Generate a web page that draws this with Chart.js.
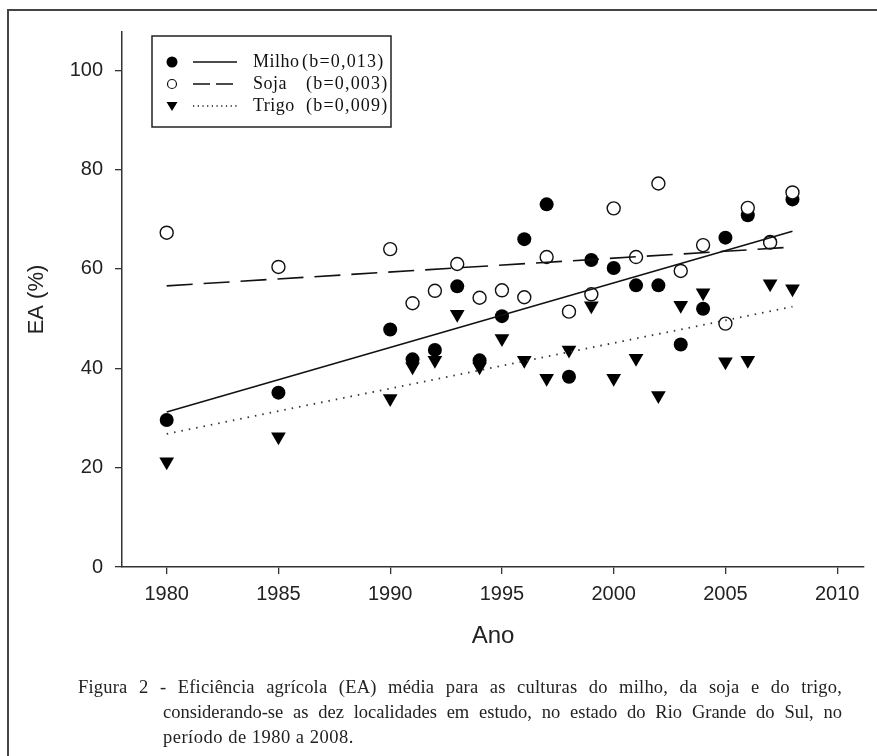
<!DOCTYPE html>
<html>
<head>
<meta charset="utf-8">
<script src="https://cdn.jsdelivr.net/npm/chart.js@4.4.0/dist/chart.umd.min.js"></script>
<style>
  html, body { margin: 0; padding: 0; background: #fff; }
  body { width: 877px; height: 756px; overflow: hidden; position: relative; }
  #frame {
    position: absolute; left: 7px; top: 9px; width: 900px; height: 760px;
    border: 2px solid #444; box-sizing: border-box;
  }
  #chart { position: absolute; left: 0; top: 0; }
  .cap {
    position: absolute; font-family: 'Liberation Serif', 'Times New Roman', serif;
    font-size: 18.5px; line-height: 25px; color: #222;
    text-align: justify; text-align-last: justify;
  }
  .l1 { left: 78px; top: 675px; width: 764px; letter-spacing: 0.2px; }
  .l2 { left: 163px; top: 700px; width: 679px; }
  .l3 { left: 163px; top: 725px; letter-spacing: 0.5px; text-align: left; text-align-last: left; }
</style>
</head>
<body>
<div id="frame"></div>
<canvas id="chart" width="877" height="756"></canvas>
<div class="cap l1">Figura 2 - Eficiência agrícola (EA) média para as culturas do milho, da soja e do trigo,</div>
<div class="cap l2">considerando-se as dez localidades em estudo, no estado do Rio Grande do Sul, no</div>
<div class="cap l3">período de 1980 a 2008.</div>
<script>
// --------------------------------------------
// DATA
// --------------------------------------------
const years = [1980, 1985, 1990, 1991, 1992, 1993, 1994, 1995, 1996, 1997, 1998,
               1999, 2000, 2001, 2002, 2003, 2004, 2005, 2006, 2007, 2008];
const milho = [29.6, 35.1, 47.8, 41.8, 43.7, 56.5, 41.6, 50.5, 66.0, 73.0, 38.3,
               61.8, 60.2, 56.7, 56.7, 44.8, 52.0, 66.3, 70.8, 65.5, 74.0];
const soja  = [67.3, 60.4, 64.0, 53.1, 55.6, 61.0, 54.2, 55.7, 54.3, 62.4, 51.4,
               54.9, 72.2, 62.4, 77.2, 59.6, 64.8, 49.0, 72.3, 65.3, 75.4];
const trigo = [21.2, 26.2, 33.9, 40.3, 41.6, 50.9, 40.3, 46.0, 41.6, 38.0, 43.7,
               52.6, 38.0, 42.0, 34.5, 52.7, 55.2, 41.3, 41.6, 57.0, 56.0];

// regression lines, start and end
const trendYears = [1980, 2008];
const milhoTrend = [31.2, 67.6];
const sojaTrend  = [56.6, 64.4];
const trigoTrend = [26.8, 52.4];

const xTicks = [1980, 1985, 1990, 1995, 2000, 2005, 2010];
const yTicks = [0, 20, 40, 60, 80, 100];

const legendItems = [
  { name: 'Milho', coef: '(b=0,013)', marker: 'filled', dash: [] },
  { name: 'Soja',  coef: '(b=0,003)', marker: 'open',   dash: [17, 6] },
  { name: 'Trigo', coef: '(b=0,009)', marker: 'tri',    dash: [1.2, 3.5] }
];

function toPoints(xs, ys) {
  return xs.map((x, i) => ({ x: x, y: ys[i] }));
}

// --------------------------------------------
// LEGEND (marker + line sample + text in a box)
// --------------------------------------------
function drawMarker(ctx, kind, x, y) {
  ctx.save();
  ctx.fillStyle = '#000';
  ctx.strokeStyle = '#111';
  if (kind === 'filled') {
    ctx.beginPath(); ctx.arc(x, y, 5.5, 0, Math.PI * 2); ctx.fill();
  } else if (kind === 'open') {
    ctx.lineWidth = 1.2;
    ctx.beginPath(); ctx.arc(x, y, 4.5, 0, Math.PI * 2); ctx.stroke();
  } else {
    ctx.beginPath();
    ctx.moveTo(x - 5.5, y - 4); ctx.lineTo(x + 5.5, y - 4); ctx.lineTo(x, y + 5);
    ctx.closePath(); ctx.fill();
  }
  ctx.restore();
}

const boxLegend = {
  id: 'boxLegend',
  afterDraw(chart) {
    const ctx = chart.ctx;
    ctx.save();
    ctx.strokeStyle = '#222';
    ctx.lineWidth = 1.5;
    ctx.strokeRect(152, 36, 239, 91);
    legendItems.forEach((item, i) => {
      const y = 62 + i * 22;
      drawMarker(ctx, item.marker, 172, y);
      ctx.beginPath();
      ctx.setLineDash(item.dash);
      ctx.lineWidth = 1.3;
      ctx.strokeStyle = '#111';
      ctx.moveTo(193, y); ctx.lineTo(237, y);
      ctx.stroke();
      ctx.setLineDash([]);
      ctx.fillStyle = '#111';
      ctx.textBaseline = 'middle';
      ctx.font = "18px 'Liberation Serif', serif";
      ctx.letterSpacing = '0.5px';
      ctx.fillText(item.name, 253, y);
      ctx.letterSpacing = '1.2px';
      ctx.fillText(item.coef, i === 0 ? 302 : 306, y);
    });
    ctx.restore();
  }
};

// --------------------------------------------
// CHART
// --------------------------------------------
Chart.defaults.font.family = "'Liberation Sans', Arial, sans-serif";
Chart.defaults.color = '#222';

const axisLine = {
  display: true,
  drawOnChartArea: false,
  drawTicks: true,
  tickLength: 7,
  color: '#333',
  lineWidth: 1.3
};

new Chart(document.getElementById('chart'), {
  type: 'scatter',
  data: {
    datasets: [
      {
        label: 'Milho (b=0,013)',
        data: toPoints(trendYears, milhoTrend),
        showLine: true, pointRadius: 0,
        borderColor: '#111', borderWidth: 1.6
      },
      {
        label: 'Soja (b=0,003)',
        data: toPoints(trendYears, sojaTrend),
        showLine: true, pointRadius: 0,
        borderColor: '#111', borderWidth: 1.6, borderDash: [26, 11]
      },
      {
        label: 'Trigo (b=0,009)',
        data: toPoints(trendYears, trigoTrend),
        showLine: true, pointRadius: 0,
        borderColor: '#333', borderWidth: 1.8, borderDash: [1.5, 6]
      },
      {
        label: 'Soja',
        data: toPoints(years, soja),
        pointStyle: 'circle', pointRadius: 6.5,
        pointBackgroundColor: '#fff', pointBorderColor: '#111', pointBorderWidth: 1.4
      },
      {
        label: 'Milho',
        data: toPoints(years, milho),
        pointStyle: 'circle', pointRadius: 7,
        pointBackgroundColor: '#000', pointBorderColor: '#000', pointBorderWidth: 0
      },
      {
        label: 'Trigo',
        data: toPoints(years, trigo),
        pointStyle: 'triangle', rotation: 180, pointRadius: 8.5,
        pointBackgroundColor: '#000', pointBorderColor: '#000', pointBorderWidth: 0
      }
    ]
  },
  options: {
    responsive: false,
    animation: false,
    events: [],
    layout: { padding: { left: 0, top: 32, right: 13, bottom: 79 } },
    plugins: {
      legend: { display: false },
      tooltip: { enabled: false }
    },
    scales: {
      x: {
        type: 'linear',
        min: 1978,
        max: 2011.2,
        afterFit: (s) => { s.height = 110; },
        afterBuildTicks: (s) => { s.ticks = xTicks.map(v => ({ value: v })); },
        grid: axisLine,
        border: { display: true, color: '#333', width: 1.5 },
        ticks: { font: { size: 20 }, padding: 8, maxRotation: 0, callback: v => String(v) },
        title: {
          display: true, text: 'Ano',
          font: { size: 24 }, padding: { top: 0, bottom: 26 }
        }
      },
      y: {
        type: 'linear',
        min: 0,
        max: 107.7,
        afterFit: (s) => { s.width = 122; },
        afterBuildTicks: (s) => { s.ticks = yTicks.map(v => ({ value: v })); },
        grid: axisLine,
        border: { display: true, color: '#333', width: 1.5 },
        ticks: { font: { size: 20 }, padding: 12 },
        title: {
          display: true, text: 'EA (%)',
          font: { size: 22 }, padding: { top: 24, bottom: 0 }
        }
      }
    }
  },
  plugins: [boxLegend]
});
</script>
</body>
</html>
